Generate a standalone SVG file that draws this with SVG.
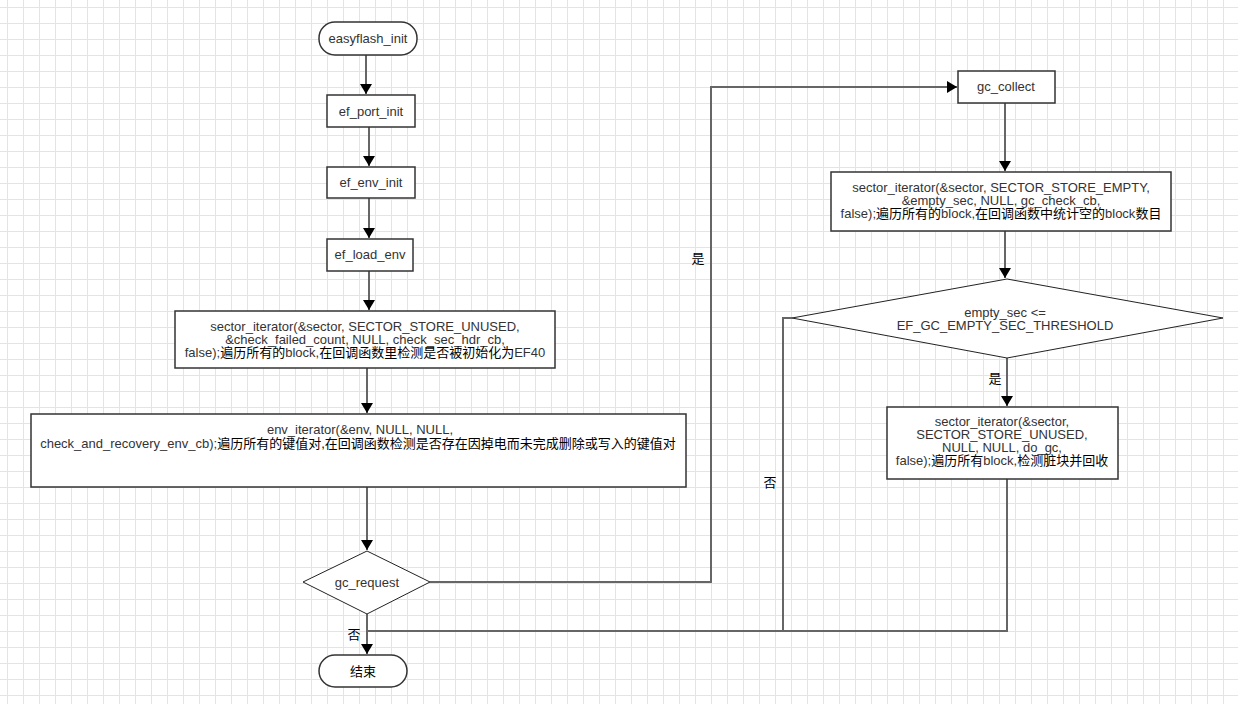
<svg xmlns="http://www.w3.org/2000/svg" width="1238" height="704" viewBox="0 0 1238 704">
<style>
text{font-family:"Liberation Sans","Noto Sans CJK SC",Arial,sans-serif;font-size:13px;fill:#333;text-anchor:middle}
.cn{fill:#000}
.box{fill:#fff;stroke:#333;stroke-width:1.5}
.dia{fill:#fff;stroke:#222;stroke-width:1}
.c{fill:none;stroke:#666;stroke-width:2}
</style>
<defs>
<pattern id="grid" width="16" height="16" patternUnits="userSpaceOnUse" x="7" y="7">
<path d="M0 0.5H16M0.5 0V16" fill="none" stroke="#e4e4e4" stroke-width="1"/>
</pattern>
<marker id="ah" markerWidth="10" markerHeight="12" refX="10" refY="6" orient="auto" markerUnits="userSpaceOnUse">
<path d="M0 0L10 6L0 12Z" fill="#000"/>
</marker>
</defs>
<rect width="1238" height="704" fill="#fff"/>
<rect width="1238" height="704" fill="url(#grid)"/>

<g id="connectors">
<path class="c" d="M366 55V94" marker-end="url(#ah)"/>
<path class="c" d="M369 127V166" marker-end="url(#ah)"/>
<path class="c" d="M369 198V238" marker-end="url(#ah)"/>
<path class="c" d="M369 271V310" marker-end="url(#ah)"/>
<path class="c" d="M367 368V413" marker-end="url(#ah)"/>
<path class="c" d="M367 487V550" marker-end="url(#ah)"/>
<path class="c" d="M367 614V654" marker-end="url(#ah)"/>
<path class="c" d="M430 582H711V87H957" marker-end="url(#ah)"/>
<path class="c" d="M1005 103V171" marker-end="url(#ah)"/>
<path class="c" d="M1005 231V278" marker-end="url(#ah)"/>
<path class="c" d="M1007 358V406" marker-end="url(#ah)"/>
<path class="c" d="M1007 479V631H367"/>
<path class="c" d="M792 318H783V631"/>
<text x="698" y="263" class="cn">是</text>
<text x="995" y="383" class="cn">是</text>
<text x="354" y="639" class="cn">否</text>
<text x="770" y="487" class="cn">否</text>
</g>

<g id="easyflash_init">
<rect class="box" x="319" y="22" width="98" height="33" rx="16"/>
<text x="368" y="43">easyflash_init</text>
</g>
<g id="ef_port_init">
<rect class="box" x="327" y="95" width="88" height="32"/>
<text x="371" y="116">ef_port_init</text>
</g>
<g id="ef_env_init">
<rect class="box" x="327" y="167" width="88" height="31"/>
<text x="371" y="187">ef_env_init</text>
</g>
<g id="ef_load_env">
<rect class="box" x="327" y="239" width="86" height="32"/>
<text x="370" y="259">ef_load_env</text>
</g>
<g id="sector_iter_unused_check">
<rect class="box" x="175" y="311" width="380" height="57"/>
<text x="365" y="331">sector_iterator(&amp;sector, SECTOR_STORE_UNUSED,</text>
<text x="365" y="344">&amp;check_failed_count, NULL, check_sec_hdr_cb,</text>
<text x="365" y="357">false);<tspan class="cn">遍历所有的</tspan>block,<tspan class="cn">在回调函数里检测是否被初始化为</tspan>EF40</text>
</g>
<g id="env_iterator">
<rect class="box" x="31" y="414" width="655" height="73"/>
<text x="360" y="434">env_iterator(&amp;env, NULL, NULL,</text>
<text x="358" y="448">check_and_recovery_env_cb);<tspan class="cn">遍历所有的键值对,在回调函数检测是否存在因掉电而未完成删除或写入的键值对</tspan></text>
</g>
<g id="gc_request">
<path class="dia" d="M367 551L430 582L367 614L303 582Z"/>
<text x="367" y="587">gc_request</text>
</g>
<g id="end">
<rect class="box" x="319" y="655" width="88" height="32" rx="16"/>
<text x="363" y="676" class="cn">结束</text>
</g>
<g id="gc_collect">
<rect class="box" x="958" y="71" width="97" height="32"/>
<text x="1006" y="91">gc_collect</text>
</g>
<g id="sector_iter_empty">
<rect class="box" x="831" y="172" width="340" height="59"/>
<text x="1001" y="192">sector_iterator(&amp;sector, SECTOR_STORE_EMPTY,</text>
<text x="1001" y="205">&amp;empty_sec, NULL, gc_check_cb,</text>
<text x="1001" y="218">false);<tspan class="cn">遍历所有的</tspan>block,<tspan class="cn">在回调函数中统计空的</tspan>block<tspan class="cn">数目</tspan></text>
</g>
<g id="threshold">
<path class="dia" d="M1007 279L1223 318L1007 358L792 318Z"/>
<text x="1005" y="317">empty_sec &lt;=</text>
<text x="1005" y="330">EF_GC_EMPTY_SEC_THRESHOLD</text>
</g>
<g id="sector_iter_gc">
<rect class="box" x="887" y="407" width="231" height="72"/>
<text x="1002" y="426">sector_iterator(&amp;sector,</text>
<text x="1002" y="439">SECTOR_STORE_UNUSED,</text>
<text x="1002" y="452">NULL, NULL, do_gc,</text>
<text x="1002" y="465">false);<tspan class="cn">遍历所有</tspan>block,<tspan class="cn">检测脏块并回收</tspan></text>
</g>
</svg>
